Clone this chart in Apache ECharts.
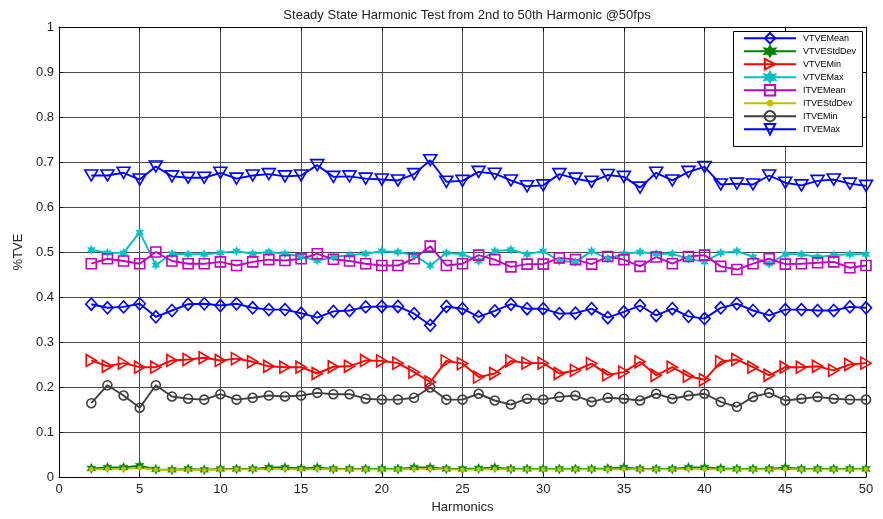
<!DOCTYPE html>
<html>
<head>
<meta charset="utf-8">
<script src="https://cdn.jsdelivr.net/npm/echarts@6/dist/echarts.min.js"></script>
<style>
  html, body { margin: 0; padding: 0; background: #fff; }
  #chart { width: 883px; height: 519px; }
</style>
</head>
<body>
<div id="chart"></div>
<script>
// Harmonic orders on the x axis
const harmonics = [2, 3, 4, 5, 6, 7, 8, 9, 10, 11, 12, 13, 14, 15, 16, 17, 18, 19, 20, 21,
  22, 23, 24, 25, 26, 27, 28, 29, 30, 31, 32, 33, 34, 35, 36, 37, 38, 39, 40, 41,
  42, 43, 44, 45, 46, 47, 48, 49, 50];

const vtveMean = [0.384, 0.376, 0.378, 0.385, 0.356, 0.370, 0.384, 0.385, 0.381, 0.385,
  0.376, 0.372, 0.372, 0.364, 0.354, 0.368, 0.370, 0.378, 0.379, 0.379,
  0.363, 0.337, 0.379, 0.374, 0.356, 0.369, 0.384, 0.374, 0.374, 0.363,
  0.364, 0.374, 0.354, 0.367, 0.381, 0.359, 0.374, 0.357, 0.352, 0.376,
  0.385, 0.370, 0.359, 0.372, 0.372, 0.370, 0.370, 0.378, 0.376];

const vtveStdDev = [0.019, 0.021, 0.021, 0.025, 0.017, 0.016, 0.018, 0.016, 0.018, 0.018,
  0.018, 0.021, 0.021, 0.019, 0.021, 0.018, 0.018, 0.018, 0.018, 0.018,
  0.021, 0.021, 0.018, 0.018, 0.019, 0.021, 0.018, 0.018, 0.018, 0.018,
  0.018, 0.018, 0.019, 0.021, 0.018, 0.018, 0.018, 0.021, 0.021, 0.019,
  0.018, 0.018, 0.018, 0.021, 0.018, 0.018, 0.018, 0.018, 0.018];

const vtveMin = [0.259, 0.246, 0.253, 0.244, 0.244, 0.259, 0.261, 0.265, 0.259, 0.263,
  0.256, 0.246, 0.244, 0.244, 0.230, 0.245, 0.246, 0.259, 0.258, 0.253,
  0.233, 0.211, 0.258, 0.252, 0.222, 0.230, 0.258, 0.253, 0.253, 0.230,
  0.237, 0.252, 0.227, 0.233, 0.256, 0.226, 0.244, 0.224, 0.216, 0.256,
  0.261, 0.244, 0.226, 0.244, 0.244, 0.246, 0.237, 0.250, 0.253];

const vtveMax = [0.505, 0.498, 0.498, 0.544, 0.471, 0.496, 0.495, 0.495, 0.498, 0.502,
  0.496, 0.500, 0.496, 0.490, 0.481, 0.489, 0.493, 0.496, 0.502, 0.500,
  0.493, 0.470, 0.498, 0.495, 0.480, 0.502, 0.505, 0.495, 0.502, 0.480,
  0.478, 0.502, 0.485, 0.496, 0.500, 0.496, 0.496, 0.485, 0.478, 0.498,
  0.502, 0.489, 0.474, 0.495, 0.495, 0.489, 0.493, 0.495, 0.495];

const itveMean = [0.474, 0.485, 0.480, 0.474, 0.500, 0.480, 0.474, 0.474, 0.478, 0.470,
  0.478, 0.483, 0.481, 0.485, 0.496, 0.484, 0.480, 0.474, 0.470, 0.470,
  0.485, 0.513, 0.470, 0.474, 0.493, 0.483, 0.467, 0.473, 0.473, 0.487,
  0.483, 0.473, 0.490, 0.483, 0.468, 0.489, 0.474, 0.490, 0.493, 0.468,
  0.461, 0.474, 0.485, 0.473, 0.474, 0.476, 0.478, 0.465, 0.470];

const itveStdDev = [0.017, 0.018, 0.018, 0.020, 0.016, 0.015, 0.016, 0.015, 0.017, 0.017,
  0.017, 0.018, 0.018, 0.017, 0.018, 0.017, 0.017, 0.017, 0.017, 0.017,
  0.018, 0.018, 0.017, 0.016, 0.017, 0.018, 0.017, 0.017, 0.017, 0.017,
  0.017, 0.017, 0.017, 0.018, 0.017, 0.017, 0.017, 0.018, 0.018, 0.017,
  0.017, 0.017, 0.017, 0.018, 0.017, 0.017, 0.017, 0.017, 0.017];

const itveMin = [0.164, 0.204, 0.181, 0.154, 0.204, 0.179, 0.174, 0.172, 0.184, 0.172,
  0.176, 0.181, 0.179, 0.181, 0.187, 0.184, 0.184, 0.174, 0.172, 0.172,
  0.176, 0.199, 0.172, 0.172, 0.185, 0.170, 0.161, 0.174, 0.172, 0.178,
  0.181, 0.167, 0.176, 0.174, 0.170, 0.185, 0.174, 0.181, 0.185, 0.167,
  0.156, 0.178, 0.187, 0.170, 0.174, 0.178, 0.174, 0.172, 0.172];

const itveMax = [0.670, 0.670, 0.676, 0.661, 0.690, 0.668, 0.665, 0.665, 0.676, 0.663,
  0.670, 0.673, 0.668, 0.670, 0.693, 0.667, 0.668, 0.663, 0.661, 0.659,
  0.673, 0.704, 0.656, 0.658, 0.678, 0.674, 0.659, 0.646, 0.648, 0.673,
  0.663, 0.656, 0.671, 0.667, 0.643, 0.676, 0.659, 0.678, 0.689, 0.650,
  0.652, 0.650, 0.670, 0.654, 0.648, 0.658, 0.661, 0.652, 0.647];

const xTicks = [0, 5, 10, 15, 20, 25, 30, 35, 40, 45, 50];

// Marker shapes
const HEXAGRAM = 'path://M10,0 L12.5,5.67 L18.66,5 L15,10 L18.66,15 L12.5,14.33 L10,20 L7.5,14.33 L1.34,15 L5,10 L1.34,5 L7.5,5.67 Z';
const TRI_RIGHT = 'path://M0,0 L17,10 L0,20 Z';
const TRI_DOWN = 'path://M0,0 L20,0 L10,17 Z';
// small dot centred in a wider box, so the same size gives a small point
const SMALL_DOT = 'path://M0,0 M20,20 M14.5,10 A4.5,4.5 0 1 1 14.499,9.9 Z';

function pairs(values) {
  return harmonics.map((h, i) => [h, values[i]]);
}

function lineSeries(name, values, color, symbol, size, hollow) {
  return {
    name: name,
    type: 'line',
    data: pairs(values),
    symbol: symbol,
    symbolSize: size,
    symbolKeepAspect: true,
    showAllSymbol: true,
    lineStyle: { color: color, width: 1.9 },
    itemStyle: hollow
      ? { color: 'rgba(255,255,255,0)', borderColor: color, borderWidth: 1.6 }
      : { color: color, borderColor: color, borderWidth: 0.5 },
    emphasis: { disabled: true },
    animation: false,
    z: 3
  };
}

const series = [
  lineSeries('VTVEMean', vtveMean, '#0000ff', 'diamond', [11, 12], true),
  lineSeries('VTVEStdDev', vtveStdDev, '#008000', HEXAGRAM, 10, false),
  lineSeries('VTVEMin', vtveMin, '#ff0000', TRI_RIGHT, 12, true),
  lineSeries('VTVEMax', vtveMax, '#00bfbf', HEXAGRAM, 9, false),
  lineSeries('ITVEMean', itveMean, '#bf00bf', 'rect', 10, true),
  lineSeries('ITVEStdDev', itveStdDev, '#bfbf00', SMALL_DOT, 10, false),
  lineSeries('ITVEMin', itveMin, '#404040', 'circle', 9, true),
  lineSeries('ITVEMax', itveMax, '#0000ff', TRI_DOWN, 13, true)
];

const chart = echarts.init(document.getElementById('chart'), null, { renderer: 'canvas' });

const gridLine = { show: true, lineStyle: { color: '#4a4a4a', width: 1, type: 'solid' } };
const fontFam = 'Liberation Sans, Arial, sans-serif';

chart.setOption({
  backgroundColor: '#fff',
  animation: false,
  title: {
    text: 'Steady State Harmonic Test from 2nd to 50th Harmonic @50fps',
    left: 462,
    top: 4,
    textAlign: 'center',
    textStyle: { fontFamily: fontFam, fontSize: 13, fontWeight: 'normal', color: '#222' }
  },
  grid: { left: 59, right: 17, top: 27, bottom: 42, containLabel: false },
  xAxis: [{
    type: 'value', min: 0, max: 50, interval: 5,
    name: 'Harmonics', nameLocation: 'middle', nameGap: 24,
    nameTextStyle: { fontFamily: fontFam, fontSize: 13, color: '#222' },
    axisLine: { show: true, onZero: false, lineStyle: { color: '#000', width: 1 } },
    axisTick: { show: true, inside: true, length: 4, lineStyle: { color: '#000' } },
    axisLabel: { fontFamily: fontFam, fontSize: 13, color: '#222', margin: 6,
      formatter: v => (xTicks.includes(v) ? String(v) : '') },
    splitLine: gridLine
  }, {
    type: 'value', min: 0, max: 50, interval: 5, position: 'top',
    axisLine: { show: true, onZero: false, lineStyle: { color: '#000', width: 1 } },
    axisTick: { show: true, inside: true, length: 4, lineStyle: { color: '#000' } },
    axisLabel: { show: false }, splitLine: { show: false }
  }],
  yAxis: [{
    type: 'value', min: 0, max: 1, interval: 0.1,
    name: '%TVE', nameLocation: 'middle', nameGap: 34,
    nameTextStyle: { fontFamily: fontFam, fontSize: 13, color: '#222' },
    axisLine: { show: true, onZero: false, lineStyle: { color: '#000', width: 1 } },
    axisTick: { show: true, inside: true, length: 4, lineStyle: { color: '#000' } },
    axisLabel: { fontFamily: fontFam, fontSize: 13, color: '#222', margin: 5,
      formatter: v => String(Math.round(v * 10) / 10) },
    splitLine: gridLine
  }, {
    type: 'value', min: 0, max: 1, interval: 0.1, position: 'right',
    axisLine: { show: true, onZero: false, lineStyle: { color: '#000', width: 1 } },
    axisTick: { show: true, inside: true, length: 4, lineStyle: { color: '#000' } },
    axisLabel: { show: false }, splitLine: { show: false }
  }],
  legend: {
    orient: 'vertical',
    left: 743,
    top: 32,
    padding: 0,
    itemWidth: 52,
    itemHeight: 13,
    itemGap: 0.6,
    selectedMode: false,
    textStyle: { fontFamily: fontFam, fontSize: 9, color: '#000', padding: [0, 0, 0, 2] },
    data: series.map(s => s.name),
    z: 20
  },
  graphic: [{
    type: 'rect',
    left: 733, top: 31,
    shape: { width: 129, height: 115 },
    style: { fill: '#fff', stroke: '#000', lineWidth: 1 },
    z: 15
  }],
  series: series
});
</script>
</body>
</html>
